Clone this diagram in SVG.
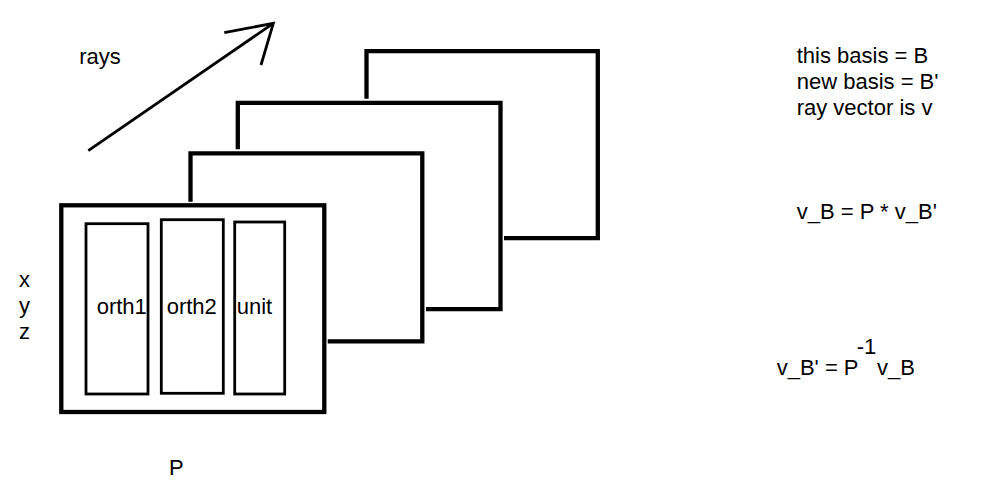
<svg xmlns="http://www.w3.org/2000/svg" width="994" height="487" viewBox="0 0 994 487">
<style>
text{font-family:"Liberation Sans",Arial,sans-serif;font-size:22px;fill:#000}
.frame{fill:none;stroke:#000;stroke-width:4.3;stroke-linecap:butt;stroke-linejoin:miter}
.col{fill:none;stroke:#000;stroke-width:2.8}
.arrow{fill:none;stroke:#000;stroke-width:2.8;stroke-linecap:butt}
</style>
<rect width="994" height="487" fill="#fff"/>
<g id="frame4"><polyline class="frame" points="366.5,98.7 366.5,51.2 597.8,51.2 597.8,238.2 504,238.2"/></g>
<g id="frame3"><polyline class="frame" points="237.8,149.3 237.8,102.8 500.5,102.8 500.5,309.2 426,309.2"/></g>
<g id="frame2"><polyline class="frame" points="190.5,201.7 190.5,153.3 422.3,153.3 422.3,341.3 327.7,341.3"/></g>
<g id="P">
<rect class="frame" x="61.3" y="205.3" width="263" height="206.7" stroke-width="4"/>
<g id="orth1"><rect class="col" x="86" y="223.7" width="62" height="170.3"/><text x="96.7" y="314">orth1</text></g>
<g id="orth2"><rect class="col" x="161.3" y="219.7" width="62" height="173.6"/><text x="166.7" y="314">orth2</text></g>
<g id="unit"><rect class="col" x="234.7" y="222" width="50" height="172"/><text x="236.7" y="314">unit</text></g>
</g>
<g id="connectors">
<line class="arrow" x1="88.3" y1="150.7" x2="273.3" y2="23.3"/>
<polyline class="arrow" points="224.3,32.7 273.3,23.3 261,65"/>
</g>
<text x="79.3" y="64">rays</text>
<g id="xyz">
<text x="19" y="286.7">x</text>
<text x="19" y="313">y</text>
<text x="19" y="339">z</text>
</g>
<text x="169" y="475">P</text>
<g id="notes">
<text x="796.7" y="62.7">this basis = B</text>
<text x="796.7" y="88.7">new basis = B'</text>
<text x="796.7" y="115">ray vector is v</text>
<text x="796.7" y="219">v_B = P * v_B'</text>
<text x="776.7" y="375">v_B' = P</text>
<text x="856.7" y="354">-1</text>
<text x="877" y="375">v_B</text>
</g>
</svg>
